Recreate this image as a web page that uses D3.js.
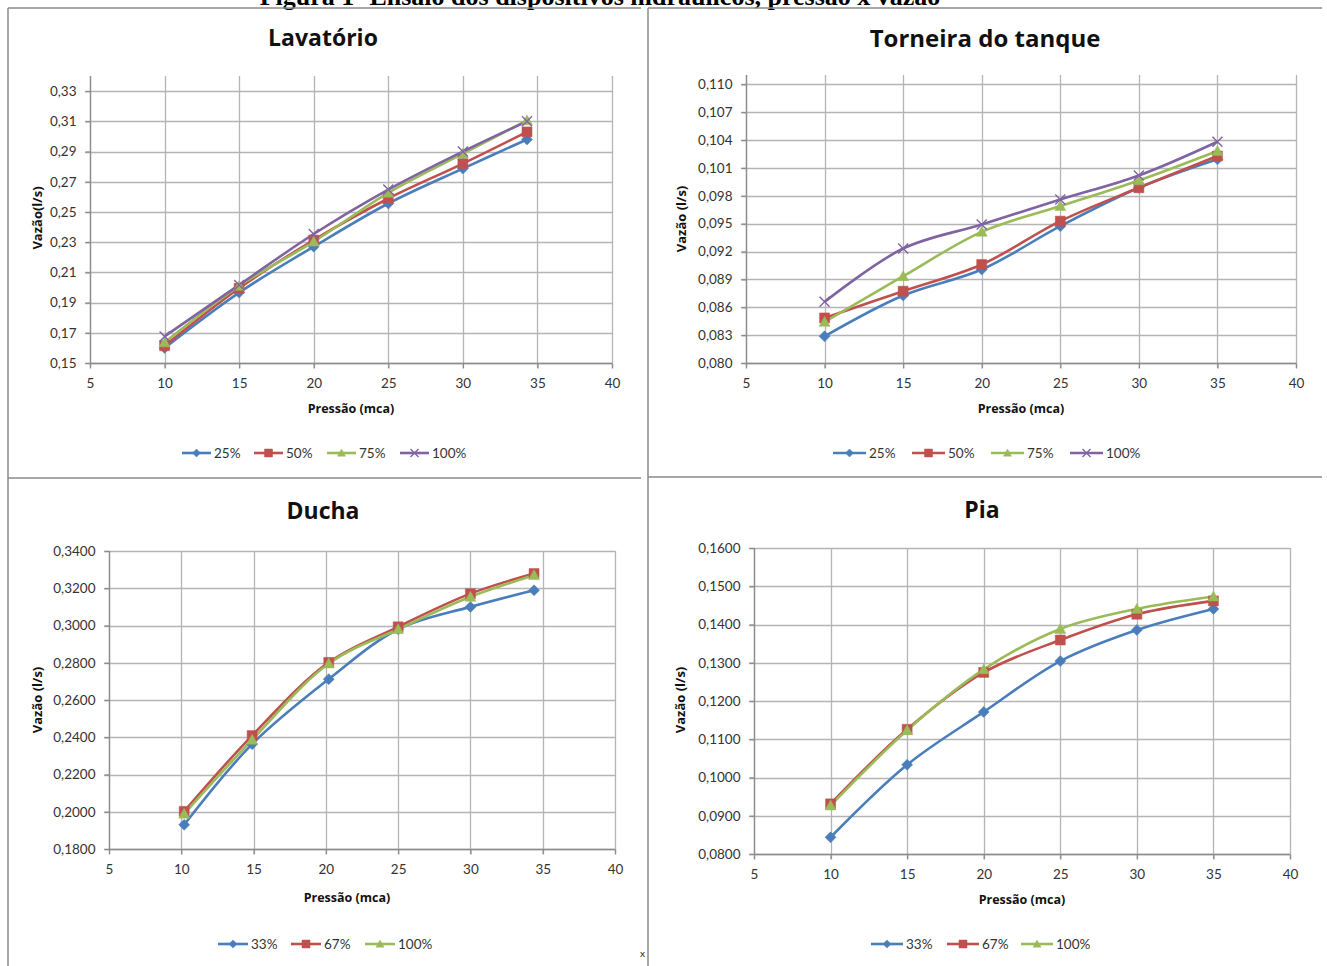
<!DOCTYPE html>
<html><head><meta charset="utf-8">
<script src="https://cdn.jsdelivr.net/npm/d3@7"></script>
<style>
html,body{margin:0;padding:0;background:#fff;}
svg{display:block;}
</style></head>
<body>
<svg id="c" width="1327" height="966"></svg>
<script>
// ---------------- DATA ----------------
const figTitle = "Figura 1- Ensaio dos dispositivos hidráulicos, pressão x vazão";

// Lavatório
const lavTitle = "Lavatório";
const lavPressure = [10, 15, 20, 25, 30, 34.3];
const lavSeriesNames = ["25%", "50%", "75%", "100%"];
const lav25 = [0.160, 0.1966, 0.227, 0.2556, 0.2787, 0.298];
const lav50 = [0.1614, 0.1995, 0.2314, 0.2589, 0.282, 0.303];
const lav75 = [0.1636, 0.201, 0.2303, 0.2627, 0.2886, 0.3106];
const lav100 = [0.1676, 0.2017, 0.2354, 0.2648, 0.290, 0.310];
const lavYTicks = [0.15, 0.17, 0.19, 0.21, 0.23, 0.25, 0.27, 0.29, 0.31, 0.33];
const lavYLabel = "Vazão(l/s)";

// Torneira do tanque
const torTitle = "Torneira do tanque";
const torPressure = [10, 15, 20, 25, 30, 35];
const torSeriesNames = ["25%", "50%", "75%", "100%"];
const tor25 = [0.08287, 0.08726, 0.09006, 0.09473, 0.09886, 0.10192];
const tor50 = [0.08485, 0.08773, 0.0906, 0.09527, 0.09886, 0.10228];
const tor75 = [0.08442, 0.08934, 0.09412, 0.09689, 0.09965, 0.10282];
const tor100 = [0.08658, 0.09232, 0.09491, 0.0976, 0.10019, 0.10382];
const torYTicks = [0.080, 0.083, 0.086, 0.089, 0.092, 0.095, 0.098, 0.101, 0.104, 0.107, 0.110];
const torYLabel = "Vazão (l/s)";

// Ducha
const duTitle = "Ducha";
const duPressure = [10.2, 14.9, 20.2, 25, 30, 34.4];
const duSeriesNames = ["33%", "67%", "100%"];
const du33 = [0.1930, 0.2363, 0.2712, 0.2980, 0.3100, 0.3189];
const du67 = [0.2002, 0.2409, 0.2802, 0.2993, 0.3171, 0.3279];
const du100 = [0.1989, 0.2386, 0.2796, 0.2980, 0.3154, 0.3270];
const duYTicks = [0.18, 0.20, 0.22, 0.24, 0.26, 0.28, 0.30, 0.32, 0.34];
const duYLabel = "Vazão (l/s)";

// Pia
const piaTitle = "Pia";
const piaPressure = [10, 15, 20, 25, 30, 35];
const piaSeriesNames = ["33%", "67%", "100%"];
const pia33 = [0.08437, 0.10334, 0.11715, 0.13044, 0.13857, 0.14407];
const pia67 = [0.09311, 0.1126, 0.12747, 0.13594, 0.14268, 0.14617];
const pia100 = [0.09267, 0.11234, 0.12825, 0.13883, 0.14407, 0.14731];
const piaYTicks = [0.08, 0.09, 0.10, 0.11, 0.12, 0.13, 0.14, 0.15, 0.16];
const piaYLabel = "Vazão (l/s)";

const xTicks = [5, 10, 15, 20, 25, 30, 35, 40];
const xLabel = "Pressão (mca)";

// ---------------- STYLE ----------------
const colors = ["#4A7EBB", "#C0504D", "#9BBB59", "#8064A2"];
const shapes = ["diamond", "square", "triangle", "x"];
const markerSizes = [11, 10, 11, 10];
const FONT = "Lato, 'Open Sans', sans-serif";
const TITLEFONT = "'Open Sans', Lato, sans-serif";
const gridColor = "#b4b4b4";
const axisColor = "#8c8c8c";
const textColor = "#333";

const svg = d3.select("#c");

// page title (cropped at top, as in the source scan)
svg.append("text").attr("x", 600).attr("y", 5)
  .attr("text-anchor", "middle")
  .style("font-family", "'Liberation Serif', serif").style("font-weight", "bold")
  .style("font-size", "26px").attr("fill", "#000").text(figTitle);

// panel frames
const frameColor = "#8a8a8a";
function line(x1, y1, x2, y2, w) {
  svg.append("line").attr("x1", x1).attr("y1", y1).attr("x2", x2).attr("y2", y2)
    .attr("stroke", frameColor).attr("stroke-width", w || 1.5);
}
line(8, 8, 641, 8);
line(8, 8, 8, 966);
line(8, 478, 641, 478);
line(648, 8, 1322, 8);
line(648, 8, 648, 966);
line(648, 477, 1322, 477);

// stray mark near bottom divider
svg.append("text").attr("x", 640).attr("y", 957)
  .style("font-family", FONT).style("font-size", "10px").attr("fill", "#222").text("x");

function markerPath(shape, s) {
  const h = s / 2;
  if (shape === "diamond") return `M0,${-h}L${h},0L0,${h}L${-h},0Z`;
  if (shape === "square") return `M${-h},${-h}H${h}V${h}H${-h}Z`;
  if (shape === "triangle") return `M0,${-h}L${h},${h * 0.8}L${-h},${h * 0.8}Z`;
  return `M${-h},${-h}L${h},${h}M${h},${-h}L${-h},${h}`;
}

function drawMarker(g, shape, color, x, y, s) {
  const p = g.append("path").attr("d", markerPath(shape, s))
    .attr("transform", `translate(${x},${y})`);
  if (shape === "x") p.attr("fill", "none").attr("stroke", color).attr("stroke-width", 1.4);
  else p.attr("fill", color).attr("stroke", color).attr("stroke-width", 0.5);
}

function drawChart(cfg) {
  const g = svg.append("g");
  const x = d3.scaleLinear().domain([5, 40]).range([cfg.px0, cfg.px1]);
  const y = d3.scaleLinear().domain(cfg.yDomain).range([cfg.py1, cfg.py0]);

  // horizontal gridlines
  g.selectAll(".hg").data(cfg.yTicks).join("line")
    .attr("x1", cfg.px0 - 5).attr("x2", cfg.px1)
    .attr("y1", d => Math.round(y(d)) + 0.5).attr("y2", d => Math.round(y(d)) + 0.5)
    .attr("stroke", gridColor).attr("stroke-width", 1.3);
  // vertical gridlines
  g.selectAll(".vg").data(xTicks).join("line")
    .attr("x1", d => Math.round(x(d)) + 0.5).attr("x2", d => Math.round(x(d)) + 0.5)
    .attr("y1", cfg.py0).attr("y2", cfg.py1 + 5)
    .attr("stroke", gridColor).attr("stroke-width", 1.3);

  // axes
  const yAxis = d3.axisLeft(y).tickValues(cfg.yTicks).tickSize(5).tickPadding(9)
    .tickFormat(d => d.toFixed(cfg.dec).replace(".", ","));
  const ya = g.append("g").attr("transform", `translate(${cfg.px0 + 0.5},0)`).call(yAxis);
  const xAxis = d3.axisBottom(x).tickValues(xTicks).tickSize(5).tickPadding(10);
  const xa = g.append("g").attr("transform", `translate(0,${cfg.py1 + 0.5})`).call(xAxis);
  [ya, xa].forEach(a => {
    a.select(".domain").attr("stroke", axisColor).attr("stroke-width", 1.3);
    a.selectAll(".tick line").attr("stroke", axisColor).attr("stroke-width", 1.3);
    a.selectAll("text").style("font-family", FONT).style("font-size", "13.5px").attr("fill", textColor);
  });
  ya.select(".domain").attr("d", `M0,${cfg.py0}V${cfg.py1}`);
  xa.select(".domain").attr("d", `M${cfg.px0},0H${cfg.px1}`);

  // series
  const lineGen = d3.line().x(d => x(d[0])).y(d => y(d[1])).curve(d3.curveCatmullRom.alpha(0.5));
  cfg.series.forEach((vals, i) => {
    const pts = cfg.xs.map((xv, j) => [xv, vals[j]]);
    g.append("path").datum(pts).attr("d", lineGen)
      .attr("fill", "none").attr("stroke", colors[i]).attr("stroke-width", 2.6);
  });
  cfg.series.forEach((vals, i) => {
    cfg.xs.forEach((xv, j) => drawMarker(g, shapes[i], colors[i], x(xv), y(vals[j]), markerSizes[i]));
  });

  // titles
  g.append("text").attr("x", cfg.titleX).attr("y", cfg.titleY).attr("text-anchor", "middle")
    .style("font-family", TITLEFONT).style("font-weight", "bold").style("font-size", cfg.titleSize + "px")
    .attr("fill", "#111").text(cfg.title);
  g.append("text").attr("transform", `translate(${cfg.ylx},${cfg.yly}) rotate(-90)`)
    .attr("text-anchor", "middle").attr("dy", "0.35em")
    .style("font-family", TITLEFONT).style("font-weight", "bold").style("font-size", "13px")
    .attr("fill", "#111").text(cfg.yLabel);
  g.append("text").attr("x", cfg.xlx).attr("y", cfg.xly).attr("text-anchor", "middle").attr("dy", "0.35em")
    .style("font-family", TITLEFONT).style("font-weight", "bold").style("font-size", "12.5px")
    .attr("fill", "#111").text(xLabel);

  // legend
  cfg.names.forEach((nm, i) => {
    const lx = cfg.legX[i], ly = cfg.legY;
    g.append("line").attr("x1", lx).attr("x2", lx + cfg.legW).attr("y1", ly).attr("y2", ly)
      .attr("stroke", colors[i]).attr("stroke-width", 2.6);
    drawMarker(g, shapes[i], colors[i], lx + cfg.legW / 2, ly, 8);
    g.append("text").attr("x", lx + cfg.legW + 3).attr("y", ly).attr("dy", "0.35em")
      .style("font-family", FONT).style("font-size", "13.5px").attr("fill", textColor).text(nm);
  });
}

drawChart({
  title: lavTitle, titleX: 323, titleY: 46, titleSize: 23,
  xs: lavPressure, series: [lav25, lav50, lav75, lav100], names: lavSeriesNames,
  yTicks: lavYTicks, yDomain: [0.15, 0.34], dec: 2,
  px0: 90, px1: 612, py0: 76, py1: 363,
  yLabel: lavYLabel, ylx: 37, yly: 218, xlx: 351, xly: 409,
  legX: [182, 254, 327, 400], legY: 453, legW: 29
});
drawChart({
  title: torTitle, titleX: 985, titleY: 47, titleSize: 24,
  xs: torPressure, series: [tor25, tor50, tor75, tor100], names: torSeriesNames,
  yTicks: torYTicks, yDomain: [0.080, 0.111], dec: 3,
  px0: 746, px1: 1296, py0: 75, py1: 363,
  yLabel: torYLabel, ylx: 681, yly: 219, xlx: 1021, xly: 409,
  legX: [833, 912, 991, 1070], legY: 453, legW: 33
});
drawChart({
  title: duTitle, titleX: 323, titleY: 519, titleSize: 23,
  xs: duPressure, series: [du33, du67, du100], names: duSeriesNames,
  yTicks: duYTicks, yDomain: [0.18, 0.34], dec: 4,
  px0: 109, px1: 615, py0: 551, py1: 849,
  yLabel: duYLabel, ylx: 37, yly: 700, xlx: 347, xly: 898,
  legX: [218, 291, 365], legY: 944, legW: 30
});
drawChart({
  title: piaTitle, titleX: 982, titleY: 518, titleSize: 23,
  xs: piaPressure, series: [pia33, pia67, pia100], names: piaSeriesNames,
  yTicks: piaYTicks, yDomain: [0.08, 0.16], dec: 4,
  px0: 754, px1: 1290, py0: 548, py1: 854,
  yLabel: piaYLabel, ylx: 680, yly: 700, xlx: 1022, xly: 900,
  legX: [871, 947, 1021], legY: 944, legW: 32
});
</script>
</body></html>
